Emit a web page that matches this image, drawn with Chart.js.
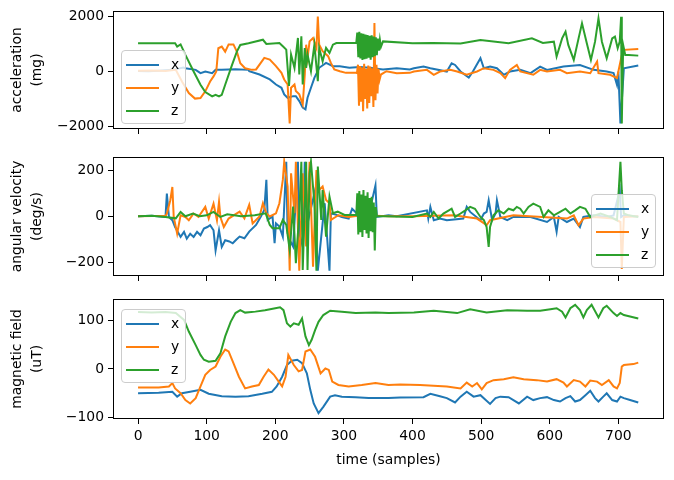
<!DOCTYPE html>
<html>
<head>
<meta charset="utf-8">
<script src="https://cdn.jsdelivr.net/npm/chart.js@4.4.1/dist/chart.umd.min.js"></script>
<style>
  body { margin: 0; background: #fff; }
  #fig { position: relative; width: 674px; height: 480px; overflow: hidden; font-family: "DejaVu Sans", sans-serif; }
  canvas { position: absolute; left: 0; }
  .legend { position: absolute; width: 63px; height: 72px; background: rgba(255,255,255,0.8); border: 1px solid #cccccc; border-radius: 4px; z-index: 2; }
  .legend i { position: absolute; left: 4px; width: 33px; height: 2px; }
  .legend span { position: absolute; left: 49px; font-size: 13.9px; line-height: 16px; color: #000; }
</style>
</head>
<body>
<div id="fig">
  <canvas id="acc" width="674" height="139" style="top:0px"></canvas>
  <canvas id="gyr" width="674" height="140" style="top:146px"></canvas>
  <canvas id="mag" width="674" height="192" style="top:288px"></canvas>
</div>
<script>
// acceleration (mg)
const accXt = [0,15,30,50,66,69,84,91,98,108,113,122,142,161,162,177,192,201,209,213,218,226,230,235,240,244,247,252,257,264,274,284,294,308,323,337,357,377,396,402,416,426,450,457,462,470,482,488,499,504,513,523,533,542,557,572,586,596,620,644,664,683,693,698,700,703,708,729];
const accX = [20,10,30,60,145,120,60,-60,0,-60,60,60,85,60,12,-110,-290,-475,-595,-835,-960,-900,-900,-1080,-1320,-1380,-960,-595,-230,135,315,195,195,135,160,135,75,120,75,120,180,120,0,300,240,0,-220,0,485,120,180,120,-120,0,60,-60,180,60,180,240,60,0,-60,-485,0,-1900,120,220];

const accYt = [0,20,40,55,64,74,83,91,98,105,110,114,117,122,127,132,139,144,149,156,166,172,184,192,201,209,213,218,221,223,228,230,235,240,243,245,247,250,255,260,262,264,269,277,281,286,294,303,318,
  319,320.5,322,323.5,325,326.5,328,329.5,331,332.5,334,335.5,337,338.5,340,341.5,343,344.5,346,347.5,349,350.5,352,
  354,362,377,396,402,421,431,440,455,465,479,494,504,518,528,535,542,552,557,576,586,596,615,625,644,659,669,671,688,698,700,705,708,729];
const accY = [30,40,20,60,-365,-785,-990,-970,-725,-365,-180,0,850,910,725,990,990,725,300,120,60,75,500,435,195,-50,-290,-475,-1900,-595,-475,-715,-835,-1200,-110,980,500,1100,1225,860,2010,980,740,560,315,75,10,-50,-50,
  -60,250,-1250,200,-1100,150,-1450,280,-1000,100,-1350,220,-1150,180,-900,120,-1300,1770,-1050,250,-800,100,-300,
  -110,10,-60,-50,0,60,-120,0,60,0,-120,0,120,60,-60,-240,60,240,0,-120,60,0,60,-60,0,-60,365,-60,-120,-240,0,605,790,825];

const accZt = [0,54,57,62,69,81,91,98,108,113,118,122,127,137,144,149,161,182,187,206,211,216,220,223,228,233,235,238,240,243,245,247,252,257,262,264,269,274,279,284,289,
  318,319.5,321,322.5,324,325.5,327,328.5,330,331.5,333,334.5,336,337.5,339,340.5,342,343.5,345,346.5,348,349.5,351,352.5,354,
  357,400,430,470,499,540,574,590,606,610,618,623,627,635,642,647,654,660,666,671,676,683,691,695,699,702,704,705,707,710,715,729];
const accZ = [1030,1030,910,990,605,0,-485,-750,-910,-850,-910,-850,-485,240,725,970,1030,1160,1005,1040,920,800,-530,620,130,1225,-110,1285,-470,860,130,620,10,980,-350,860,375,860,680,980,1040,
  1040,1420,520,1450,480,1400,420,1380,450,1350,470,1330,500,1300,430,1320,520,1280,560,1250,600,1200,760,1150,900,
  1100,1030,1040,1020,1150,1030,1210,1040,1090,545,1210,1455,970,425,1210,1760,1030,425,1090,1940,1090,485,1210,1275,850,1090,2000,-1900,970,605,605,580];

// angular velocity (deg/s)
const gyrXt = [0,20,40,42,45,50,54,62,67,71,76,81,86,91,96,101,105,110,113,118,122,127,133,138,143,148,155,162,172,179,184,187,189,196,199,201,206,211,216,218,221,226,233,235,240,243,247,257,262,267,272,279,281,289,297,307,312,319,326,336,346,348,365,377,421,423,426,431,440,450,474,479,484,499,504,508,511,516,521,523,528,538,547,572,596,606,610,613,625,635,644,649,664,683,693,702,704,708,722,729];
const gyrX = [0,2,-3,99,-3,-17,-47,-90,-68,-98,-76,-90,-68,-83,-54,-47,-39,-61,-149,-61,-134,-105,-110,-118,-103,-89,-96,-67,-38,-1,28,159,-16,-1,-118,-31,-45,-89,238,-74,-103,-132,238,-74,-132,238,-31,100,-238,-89,57,-238,13,6,-3,-10,33,12,-10,4,135,-3,4,0,26,-10,41,-17,-10,-17,-10,41,19,-17,12,19,70,-17,12,70,-3,-17,-3,-3,-25,-3,-68,-3,-25,-10,-47,-3,4,-3,4,114,-3,4,0,0];

const gyrYt = [0,40,42,47,50,52,57,62,69,74,81,88,98,103,110,115,118,120,125,132,148,155,162,167,177,182,187,192,201,206,211,213,218,221,223,228,230,235,240,245,250,255,260,264,269,274,279,281,289,292,307,326,365,401,460,494,508,513,547,625,635,642,649,664,693,703,705,708,729];
const gyrY = [0,2,12,70,128,-3,-76,4,-3,-17,12,-3,41,-10,55,-17,63,-3,-47,-10,20,-9,50,-31,-1,57,13,-1,13,57,159,238,130,-238,188,13,238,-238,188,-132,238,-220,202,115,130,71,57,-16,-1,4,-3,4,0,0,4,-10,-39,-17,4,-10,4,-39,-10,-3,-10,-25,-230,-3,0];

const gyrZt = [0,20,40,55,62,69,80,90,100,110,120,130,150,170,186,192,196,206,211,216,221,226,230,235,238,240,245,247,250,252,257,260,262,267,269,274,279,284,291,301,317,
  318,319.5,321,322.5,324,325.5,327,328.5,330,331.5,333,334.5,336,337.5,339,340.5,342,343.5,345,346.5,348,
  360,400,421,426,431,438,445,453,457,462,470,477,484,491,499,504,508,511,513,518,525,533,540,547,552,557,562,569,576,586,591,598,606,615,623,630,637,644,652,659,674,688,698,703,705,708,715,729];
const gyrZ = [0,2,-3,-9,19,0,12,0,4,19,-3,9,0,4,13,-38,-52,-52,-16,-38,-147,42,-205,13,238,-235,238,-235,188,238,57,-238,217,-16,115,-89,86,13,20,6,6,
  5,100,-80,110,-70,95,-90,115,-60,90,-75,105,-95,80,-65,85,-70,60,-150,40,0,
  0,-3,12,-3,19,-10,12,26,33,-3,12,26,41,33,-3,-17,-47,-134,-47,4,26,12,33,26,41,33,12,41,55,41,-3,26,4,19,33,12,26,41,33,-3,12,-3,-17,238,114,12,4,-3];

// magnetic field (uT)
const magXt = [0,30,50,57,64,76,91,103,122,142,161,181,195,202,210,217,224,232,239,246,251,256,263,270,280,287,297,317,336,365,382,416,426,440,450,462,470,479,489,499,513,521,528,540,555,567,576,586,596,606,615,623,630,637,644,652,659,666,671,678,683,691,698,703,708,717,729];
const magX = [-50,-49,-47,-57,-50,-47,-43,-51,-56,-57,-56,-51,-47,-36,-16,8,17,19,12,-9,-43,-71,-91,-78,-57,-54,-57,-58,-60,-60,-59,-58,-51,-56,-60,-69,-57,-47,-57,-54,-72,-60,-57,-58,-71,-57,-64,-60,-58,-64,-67,-60,-56,-67,-64,-54,-45,-60,-67,-57,-50,-64,-67,-57,-60,-64,-69];

const magYt = [0,30,45,50,54,62,69,76,84,91,98,105,113,120,127,132,139,147,156,166,176,183,190,198,205,210,215,219,227,234,239,244,251,258,266,273,278,283,292,307,326,346,365,382,411,450,470,479,487,494,501,508,518,533,547,562,581,596,610,620,625,635,644,652,659,669,676,686,693,698,702,705,708,722,729];
const magY = [-38,-38,-36,-29,-40,-50,-64,-71,-60,-36,-12,-2,5,25,40,36,12,-16,-40,-36,-33,-16,-1,-12,-26,-36,-16,29,8,-5,-2,36,40,25,-9,1,-2,-26,-33,-36,-33,-29,-33,-32,-33,-36,-40,-28,-36,-29,-42,-29,-23,-21,-17,-21,-23,-26,-21,-28,-36,-23,-26,-36,-24,-26,-33,-23,-36,-40,-29,5,8,10,13];

const magZt = [0,20,40,55,67,74,84,91,96,103,113,120,127,135,142,149,156,171,185,200,207,212,217,222,227,234,239,244,249,253,258,263,270,280,297,317,346,365,402,431,465,484,508,538,567,586,601,610,618,623,630,637,644,649,654,661,671,678,683,693,698,703,708,717,729];
const magZ = [117,116,117,115,101,77,49,29,19,15,17,32,67,97,115,121,116,118,121,125,127,121,94,87,94,91,104,67,49,60,80,97,111,120,118,115,116,115,116,120,115,123,116,121,120,120,123,125,118,106,125,132,121,106,121,132,106,125,130,115,109,115,111,108,104];

const xTicks = [0, 100, 200, 300, 400, 500, 600, 700];
const accTicks = [-2000, 0, 2000];
const gyrTicks = [-200, 0, 200];
const magTicks = [-100, 0, 100];
const labels = ['x', 'y', 'z'];
const colors = ['#1f77b4', '#ff7f0e', '#2ca02c'];

const FONT = { family: '"DejaVu Sans", sans-serif', size: 13.9, lineHeight: 1.4 };

function pts(ts, vs) {
  return ts.map((t, i) => ({ x: t, y: vs[i] }));
}

function fmt(v) {
  return v < 0 ? '\u2212' + Math.abs(v) : String(v);
}

// box around the plot area, like matplotlib spines
const frame = {
  id: 'frame',
  afterDatasetsDraw(chart) {
    const a = chart.chartArea;
    const ctx = chart.ctx;
    ctx.save();
    ctx.strokeStyle = '#000';
    ctx.lineWidth = 1;
    ctx.strokeRect(Math.round(a.left) + 0.5, Math.round(a.top) + 0.5, Math.round(a.width) - 1, Math.round(a.height) - 1);
    ctx.restore();
  }
};

function panel(id, series, yMin, yMax, yTicks, yTitle, xAxisH, showX) {
  new Chart(document.getElementById(id), {
    type: 'line',
    data: {
      datasets: series.map((s, i) => ({
        label: labels[i],
        data: pts(s[0], s[1]),
        borderColor: colors[i],
        borderWidth: 2,
        pointRadius: 0,
        tension: 0,
        fill: false,
        order: 2 - i
      }))
    },
    options: {
      responsive: false,
      animation: false,
      devicePixelRatio: 1,
      layout: { padding: { top: 11, right: 10, left: 0, bottom: 0 } },
      plugins: { legend: { display: false }, tooltip: { enabled: false } },
      scales: {
        x: {
          type: 'linear',
          min: -36.5,
          max: 766.5,
          afterBuildTicks: ax => { ax.ticks = xTicks.map(v => ({ value: v })); },
          afterFit: ax => { ax.height = xAxisH; ax.paddingLeft = 0; ax.paddingRight = 0; },
          ticks: { display: showX, autoSkip: false, maxRotation: 0, color: '#000', font: FONT, padding: 3 },
          grid: { drawOnChartArea: false, tickLength: 5, color: '#000', lineWidth: 1 },
          border: { display: false },
          title: { display: showX, text: 'time (samples)', color: '#000', font: FONT, padding: { top: 2, bottom: 10 } }
        },
        y: {
          min: yMin,
          max: yMax,
          afterBuildTicks: ax => { ax.ticks = yTicks.map(v => ({ value: v })); },
          afterFit: ax => { ax.width = 113; ax.paddingTop = 0; ax.paddingBottom = 0; },
          ticks: { color: '#000', font: FONT, padding: 4, callback: v => fmt(v) },
          grid: { drawOnChartArea: false, tickLength: 5, color: '#000', lineWidth: 1 },
          border: { display: false },
          title: { display: true, text: yTitle, color: '#000', font: FONT, padding: { top: 8, bottom: 0 } }
        }
      }
    },
    plugins: [frame]
  });
}

function legend(left, top) {
  const box = document.createElement('div');
  box.className = 'legend';
  box.style.left = left + 'px';
  box.style.top = top + 'px';
  labels.forEach((name, i) => {
    const line = document.createElement('i');
    line.style.top = (13 + 23 * i) + 'px';
    line.style.background = colors[i];
    const txt = document.createElement('span');
    txt.style.top = (5 + 23 * i) + 'px';
    txt.textContent = name;
    box.appendChild(line);
    box.appendChild(txt);
  });
  document.getElementById('fig').appendChild(box);
}

panel('acc', [[accXt, accX], [accYt, accY], [accZt, accZ]], -2100, 2210, accTicks, ['acceleration', '(mg)'], 10, false);
panel('gyr', [[gyrXt, gyrX], [gyrYt, gyrY], [gyrZt, gyrZ]], -261, 259, gyrTicks, ['angular velocity', '(deg/s)'], 10, false);
panel('mag', [[magXt, magX], [magYt, magY], [magZt, magZ]], -103, 144, magTicks, ['magnetic field', '(uT)'], 61, true);

legend(121, 50);
legend(591, 194);
legend(121, 309);
</script>
</body>
</html>
